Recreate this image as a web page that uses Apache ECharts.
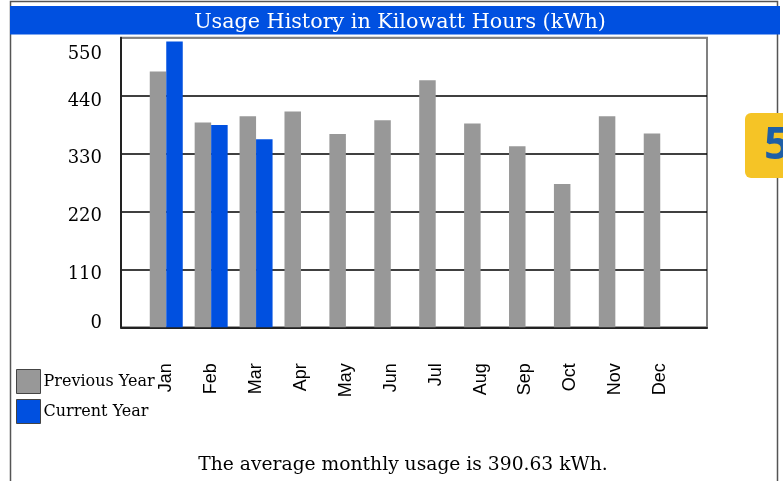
<!DOCTYPE html>
<html>
<head>
<meta charset="utf-8">
<script src="https://cdn.jsdelivr.net/npm/echarts@6/dist/echarts.min.js"></script>
<style>
html,body{margin:0;padding:0;background:#fff;}
#chart{width:783px;height:481px;}
</style>
</head>
<body>
<div id="chart"></div>
<script>
const months = ['Jan','Feb','Mar','Apr','May','Jun','Jul','Aug','Sep','Oct','Nov','Dec'];
const previousYear = [486, 389, 401, 410, 367, 393, 469, 387, 344, 272, 401, 368];
const currentYear = [543, 384, 357, null, null, null, null, null, null, null, null, null];
const yTicks = [0, 110, 220, 330, 440, 550];
const titleText = 'Usage History in Kilowatt Hours (kWh)';
const averageText = 'The average monthly usage is 390.63 kWh.';
const badgeText = '5';

const serif = '"DejaVu Serif", serif';
const blue = '#0050E0';
const gray = '#989898';

// per-label vertical nudges to mirror the reference's label placement
const labelShift = {0: -4, 110: 5, 220: 5, 330: 4.5, 440: 5.5, 550: 17};
const rich = {};
yTicks.forEach(v => {
  const d = labelShift[v] || 0;
  rich['v' + v] = {
    fontFamily: serif, fontSize: 18, color: '#000',
    padding: d >= 0 ? [2 * d, 0, 0, 0] : [0, 0, -2 * d, 0]
  };
});

const chart = echarts.init(document.getElementById('chart'), null, {renderer: 'canvas'});
const option = {
  animation: false,
  backgroundColor: '#fff',
  title: [
    {
      text: titleText, left: 395, top: 7, textAlign: 'center',
      textStyle: {fontFamily: serif, fontSize: 20.7, fontWeight: 'normal', color: '#fff'}
    },
    {
      text: averageText, left: 398, top: 451, textAlign: 'center',
      textStyle: {fontFamily: serif, fontSize: 18.7, fontWeight: 'normal', color: '#000'}
    }
  ],
  legend: {
    orient: 'vertical', left: 16, top: 369, padding: 0,
    itemWidth: 24, itemHeight: 24, itemGap: 5,
    icon: 'rect',
    textStyle: {fontFamily: serif, fontSize: 16, color: '#000', padding: [0, 0, 0, -2]},
    data: [
      {name: 'Previous Year', itemStyle: {color: gray, borderColor: '#444', borderWidth: 1}},
      {name: 'Current Year', itemStyle: {color: blue, borderColor: '#444', borderWidth: 1}}
    ]
  },
  grid: [
    {left: 143.8, right: 100.3, top: 37.7, bottom: 153.7, show: false},
    {left: 121, right: 76, top: 37.7, bottom: 153.7, show: true, borderColor: '#808080', borderWidth: 2, backgroundColor: 'transparent'}
  ],
  xAxis: [
    {
      type: 'category', gridIndex: 0, data: months,
      axisLine: {show: false}, axisTick: {show: false},
      axisLabel: {rotate: 90, margin: 36, fontFamily: '"Liberation Sans", Arial, sans-serif', fontSize: 18, color: '#000', interval: 0}
    },
    {
      type: 'value', gridIndex: 1, min: 0, max: 1, show: true,
      axisLine: {show: true, onZero: false, lineStyle: {color: '#222', width: 2}},
      axisTick: {show: false}, axisLabel: {show: false}, splitLine: {show: false}
    }
  ],
  yAxis: [
    {
      type: 'value', gridIndex: 0, min: 0, max: 550, interval: 110,
      show: false
    },
    {
      type: 'value', gridIndex: 1, min: 0, max: 550, interval: 110,
      axisLine: {show: true, lineStyle: {color: '#222', width: 2}},
      axisTick: {show: false},
      axisLabel: {
        margin: 19,
        formatter: v => '{v' + v + '|' + v + '}',
        rich: rich
      },
      splitLine: {show: true, lineStyle: {color: ['#000', '#000', '#000', '#000', '#000', '#808080'], width: 1.5}}
    }
  ],
  series: [
    {
      name: 'Previous Year', type: 'bar', xAxisIndex: 0, yAxisIndex: 0,
      data: previousYear, barWidth: 16.5, barGap: '0%',
      itemStyle: {color: gray}, z: 3
    },
    {
      name: 'Current Year', type: 'bar', xAxisIndex: 0, yAxisIndex: 0,
      data: currentYear, barWidth: 16.5, barGap: '0%',
      itemStyle: {color: blue}, z: 3
    }
  ],
  graphic: [
    {type: 'rect', z: -10, shape: {x: 10.5, y: 1.5, width: 767, height: 490}, style: {fill: 'none', stroke: '#555', lineWidth: 1.5}},
    {type: 'rect', z: -5, shape: {x: 10, y: 6, width: 770, height: 28.5}, style: {fill: blue}},
    {type: 'rect', z: 100, shape: {x: 745, y: 113, width: 60, height: 65, r: 6}, style: {fill: '#F5C426'}},
    {type: 'text', z: 101, x: 764, y: 124, style: {text: badgeText, font: 'bold 45px "Open Sans", sans-serif', fill: '#1F5FA6'}}
  ]
};
chart.setOption(option);
</script>
</body>
</html>
